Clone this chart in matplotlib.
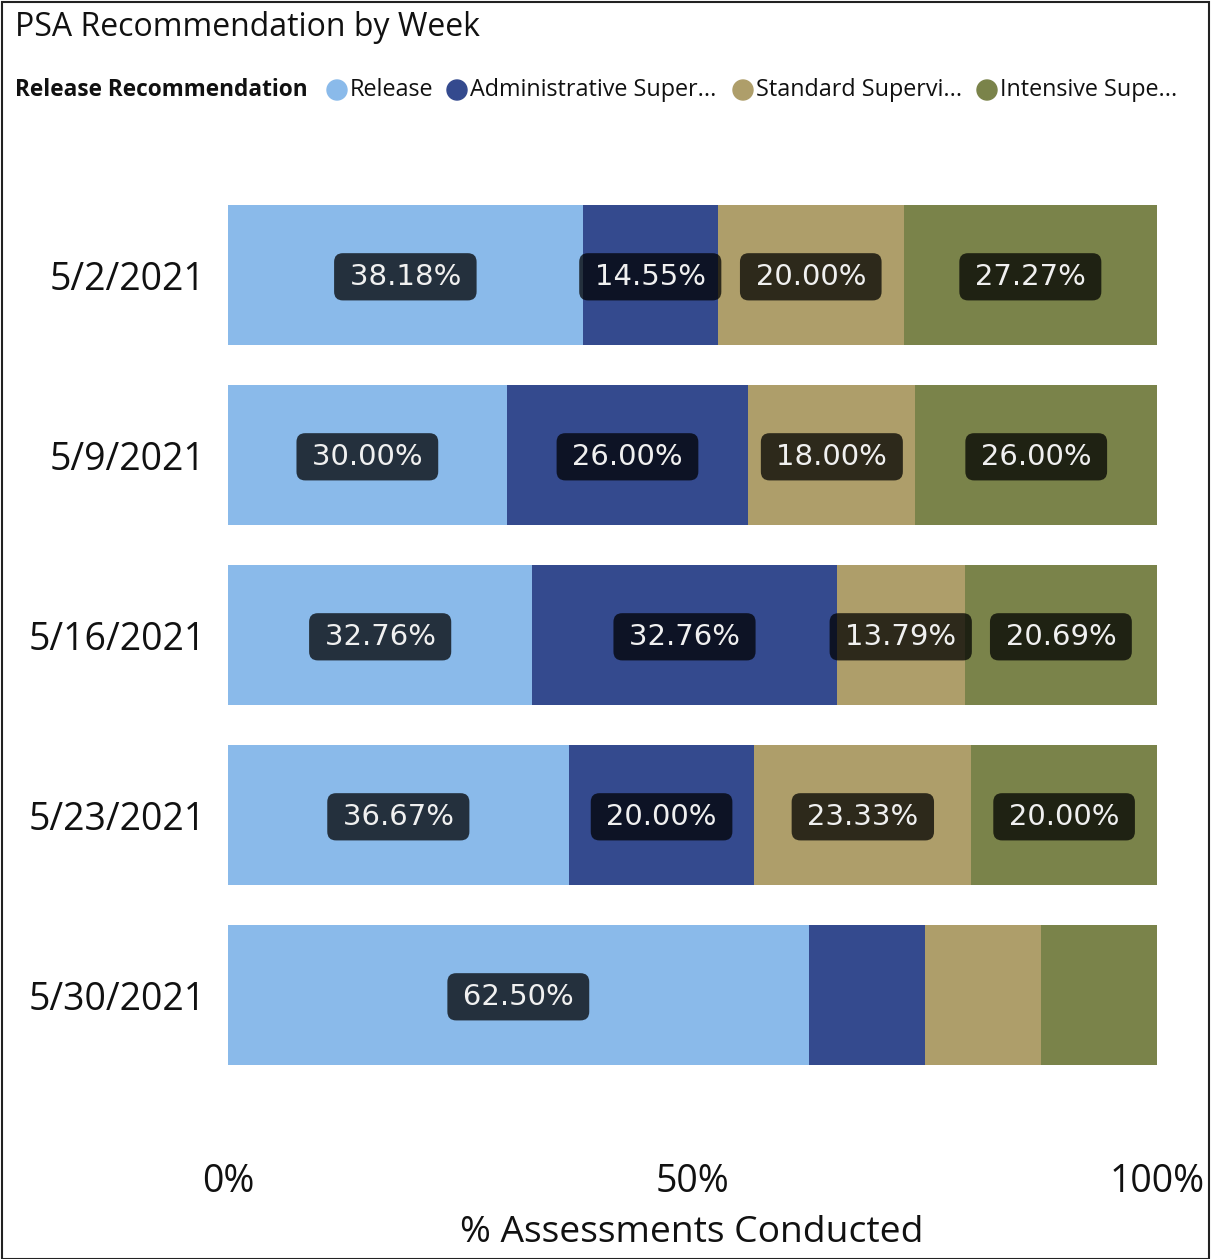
import matplotlib
matplotlib.use("Agg")
import matplotlib.pyplot as plt
from matplotlib.patches import Rectangle, Ellipse

weeks = ["5/2/2021", "5/9/2021", "5/16/2021", "5/23/2021", "5/30/2021"]
series_names = ["Release", "Administrative Super...", "Standard Supervi...", "Intensive Supe..."]
release = [38.18, 30.00, 32.76, 36.67, 62.50]
administrative = [14.55, 26.00, 32.76, 20.00, 12.50]
standard = [20.00, 18.00, 13.79, 23.33, 12.50]
intensive = [27.27, 26.00, 20.69, 20.00, 12.50]
colors = ["#8ABAEA", "#344A8E", "#AE9E6A", "#7A834A"]
xticks = [0, 50, 100]
xtick_labels = ["0%", "50%", "100%"]

W, H = 1211, 1259
fig = plt.figure(figsize=(W / 100, H / 100), dpi=100)
font = "Open Sans"
ax = fig.add_axes([228 / W, 174 / H, 929 / W, 900 / H])

series = [release, administrative, standard, intensive]
left = [0.0] * len(weeks)
for vals, col in zip(series, colors):
    ax.barh(range(len(weeks)), vals, left=left, height=0.776, color=col, linewidth=0)
    for i, v in enumerate(vals):
        if v > 13:
            ax.text(left[i] + v / 2, i + 0.01, f"\u2009{v:.2f}%\u2009", ha="center", va="center",
                    fontsize=21, color="#F0F0F0", family="DejaVu Sans",
                    bbox=dict(boxstyle="round,pad=0.33,rounding_size=0.3",
                              facecolor="black", alpha=0.74, edgecolor="none"))
    left = [l + v for l, v in zip(left, vals)]

ax.set_xlim(0, 100)
ax.set_ylim(4.5, -0.5)
ax.set_yticks(range(len(weeks)))
ax.set_yticklabels(weeks, fontsize=27, family=font, color="#111111")
ax.set_xticks(xticks)
ax.set_xticklabels(xtick_labels, fontsize=27, family=font, color="#111111")
ax.tick_params(length=0)
ax.tick_params(axis="y", pad=16)
ax.tick_params(axis="x", pad=56)
for s in ax.spines.values():
    s.set_visible(False)

fig.text(692 / W, 1 - 1233 / H, "% Assessments Conducted",
         ha="center", va="center", fontsize=26.8, family=font, color="#111111")

fig.text(15 / W, 1 - 27 / H, "PSA Recommendation by Week", ha="left", va="center",
         fontsize=23, family=font, color="#111111")

# legend row
y_leg = 1 - 90 / H
fig.text(15 / W, y_leg, "Release Recommendation", ha="left", va="center",
         fontsize=16.3, family=font, weight="bold", color="#111111")
leg_x = [337, 457, 743, 987]
for xpos, name, col in zip(leg_x, series_names, colors):
    fig.patches.append(Ellipse((xpos / W, y_leg), 20 / W, 20 / H,
                               transform=fig.transFigure, color=col))
    fig.text((xpos + 13) / W, y_leg, name, ha="left", va="center",
             fontsize=16.8, family=font, color="#111111")

fig.patches.append(Rectangle((2 / W, 0), (W - 4) / W, 1 - 2 / H, transform=fig.transFigure,
                             fill=False, edgecolor="#222222", linewidth=1.5))

fig.savefig("out.png", dpi=100)
